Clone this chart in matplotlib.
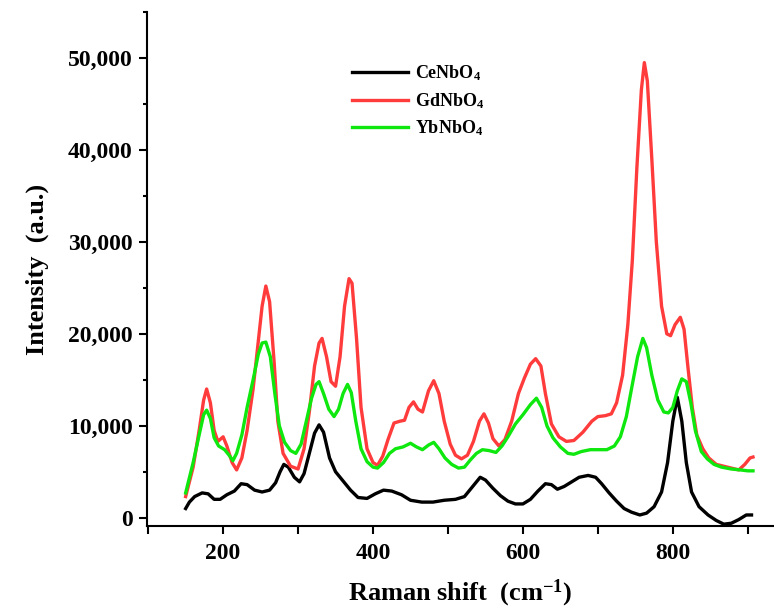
import matplotlib
matplotlib.use("Agg")
import matplotlib.pyplot as plt
from matplotlib.ticker import MultipleLocator, FuncFormatter

plt.rcParams['font.family'] = ['Liberation Serif', 'DejaVu Serif']
plt.rcParams['font.weight'] = 'bold'
plt.rcParams['mathtext.fontset'] = 'custom'
plt.rcParams['mathtext.rm'] = 'Liberation Serif:bold'
plt.rcParams['mathtext.bf'] = 'Liberation Serif:bold'
plt.rcParams['mathtext.it'] = 'Liberation Serif:bold'
plt.rcParams['mathtext.default'] = 'bf'

# ---- data ----
ce_x = [150, 155, 162, 172, 180, 188, 196, 205, 215, 224, 232, 242, 252, 262, 270, 276, 281, 287,
        295, 302, 308, 315, 322, 328, 334, 342, 350, 360, 370, 380, 392, 403, 414, 425, 438, 450,
        465, 480, 495, 510, 522, 532, 543, 550, 560, 570, 580, 590, 600, 610, 620, 630, 638, 646,
        655, 665, 675, 687, 697, 705, 715, 725, 735, 745, 756, 765, 775, 785, 793, 800, 806, 812,
        818, 825, 835, 847, 858, 868, 878, 888, 898, 905]
ce_y = [1000, 1700, 2300, 2700, 2600, 2000, 2000, 2500, 2900, 3700, 3600, 3000, 2800, 3000, 3800,
        5000, 5800, 5500, 4400, 3900, 4800, 7000, 9200, 10100, 9300, 6500, 5000, 4000, 3000, 2200,
        2100, 2600, 3000, 2900, 2500, 1900, 1700, 1700, 1900, 2000, 2300, 3300, 4400, 4100, 3200,
        2400, 1800, 1500, 1500, 2000, 2900, 3700, 3600, 3100, 3400, 3900, 4400, 4600, 4400, 3700,
        2700, 1800, 1000, 600, 300, 500, 1200, 2800, 6000, 10500, 13100, 10500, 6000, 2800, 1200,
        300, -300, -700, -600, -200, 300, 300]

gd_x = [150, 160, 168, 174, 178, 183, 188, 193, 200, 205, 212, 218, 225, 232, 240, 246, 252, 257,
        262, 268, 273, 280, 290, 300, 308, 315, 322, 328, 332, 338, 344, 350, 356, 362, 368, 372,
        378, 384, 392, 400, 406, 413, 420, 428, 436, 442, 448, 454, 460, 466, 474, 481, 488, 495,
        503, 510, 518, 526, 534, 542, 548, 554, 560, 568, 576, 585, 594, 602, 610, 617, 624, 630,
        638, 648, 658, 668, 680, 692, 700, 710, 718, 725, 733, 740, 746, 752, 758, 762, 766, 772,
        778, 785, 792, 797, 803, 810, 815, 820, 826, 832, 840, 848, 858, 868, 878, 888, 896, 903,
        907]
gd_y = [2300, 5500, 9500, 12800, 14000, 12500, 9500, 8300, 8800, 7800, 6000, 5200, 6500, 9500,
        14000, 18500, 23000, 25200, 23500, 17000, 10500, 7000, 5600, 5300, 7500, 11500, 16500,
        19000, 19500, 17500, 14800, 14300, 17500, 23000, 26000, 25500, 19500, 12000, 7500, 6000,
        5700, 6700, 8500, 10300, 10500, 10600, 12000, 12600, 11800, 11500, 13800, 14900, 13500,
        10500, 8000, 6800, 6400, 6800, 8300, 10500, 11300, 10300, 8600, 7800, 8500, 10500, 13500,
        15200, 16700, 17300, 16500, 13500, 10200, 8800, 8300, 8400, 9300, 10500, 11000, 11100,
        11300, 12500, 15500, 21000, 28000, 38000, 46500, 49500, 47500, 39000, 30000, 23000, 20000,
        19800, 21000, 21800, 20500, 16500, 12000, 9000, 7500, 6500, 5800, 5600, 5400, 5200, 5800,
        6500, 6600]

yb_x = [150, 160, 168, 174, 178, 183, 188, 194, 202, 208, 213, 218, 225, 232, 240, 247, 252, 257,
        263, 269, 275, 282, 290, 297, 304, 311, 318, 324, 328, 334, 341, 348, 354, 360, 366, 371,
        377, 384, 392, 400, 406, 414, 422, 430, 440, 450, 458, 466, 474, 481, 488, 496, 505, 514,
        522, 530, 538, 546, 555, 564, 572, 580, 590, 600, 610, 618, 625, 632, 640, 650, 660, 668,
        678, 690, 700, 712, 722, 730, 738, 746, 753, 760, 765, 772, 780, 788, 794, 800, 806, 812,
        818, 824, 830, 838, 846, 855, 865, 878, 890, 900, 907]
yb_y = [2700, 6000, 9000, 11200, 11700, 10800, 8700, 7800, 7400, 6800, 6200, 7000, 9000, 12000,
        15000, 17800, 19000, 19100, 17500, 13500, 10000, 8200, 7300, 7000, 8000, 10500, 13000,
        14500, 14800, 13500, 11800, 11000, 11800, 13500, 14500, 13600, 10500, 7500, 6100, 5500,
        5400, 6000, 7000, 7500, 7700, 8100, 7700, 7400, 7900, 8200, 7500, 6500, 5800, 5400, 5500,
        6300, 7000, 7400, 7300, 7100, 7800, 8800, 10200, 11200, 12300, 13000, 12000, 10000, 8700,
        7700, 7000, 6900, 7200, 7400, 7400, 7400, 7800, 8800, 11000, 14500, 17500, 19500, 18500,
        15500, 12800, 11500, 11400, 12000, 13800, 15100, 14800, 12500, 9500, 7200, 6400, 5800,
        5500, 5300, 5200, 5100, 5100]

labels = [r'CeNbO$_4$', r'GdNbO$_4$', r'YbNbO$_4$']
colors = ['#000000', '#ff3b3b', '#0fe80f']

x_label = r'Raman shift  (cm$^{-1}$)'
y_label = 'Intensity  (a.u.)'

# ---- figure ----
fig = plt.figure(figsize=(7.74, 6.10), dpi=100)
ax = fig.add_axes([0.1895, 0.1377, 0.8105, 0.8426])

series = [(ce_x, ce_y), (gd_x, gd_y), (yb_x, yb_y)]
for (xs, ys), lab, col in zip(series, labels, colors):
    ax.plot(xs, ys, color=col, lw=2.4, label=lab, solid_joinstyle='round')

ax.set_xlim(98, 935)
ax.set_ylim(-900, 55000)

for s in ['top', 'right']:
    ax.spines[s].set_visible(False)
for s in ['left', 'bottom']:
    ax.spines[s].set_linewidth(1.5)

ax.xaxis.set_major_locator(MultipleLocator(200))
ax.xaxis.set_minor_locator(MultipleLocator(100))
ax.yaxis.set_major_locator(MultipleLocator(10000))
ax.yaxis.set_minor_locator(MultipleLocator(5000))
ax.yaxis.set_major_formatter(FuncFormatter(lambda v, p: f'{int(v):,}'))

ax.tick_params(axis='x', which='both', direction='out', length=6, width=1.5, labelsize=17, pad=6)
ax.tick_params(axis='y', which='major', direction='out', length=6, width=1.5, labelsize=17, pad=4)
ax.tick_params(axis='y', which='minor', direction='out', length=3, width=1.5)
for t in ax.get_xticklabels() + ax.get_yticklabels():
    t.set_fontweight('bold')

ax.set_xlabel(x_label, fontsize=19, fontweight='bold', labelpad=10)
ax.set_ylabel(y_label, fontsize=19, fontweight='bold', labelpad=14)

leg = ax.legend(loc='upper left', bbox_to_anchor=(351.7 / 774, 1 - 63 / 610),
                bbox_transform=fig.transFigure, frameon=False, fontsize=13,
                handlelength=3.1, handletextpad=0.4, labelspacing=0.45,
                borderpad=0, borderaxespad=0)
for t in leg.get_texts():
    t.set_fontweight('bold')

fig.savefig('out.png', dpi=100)
